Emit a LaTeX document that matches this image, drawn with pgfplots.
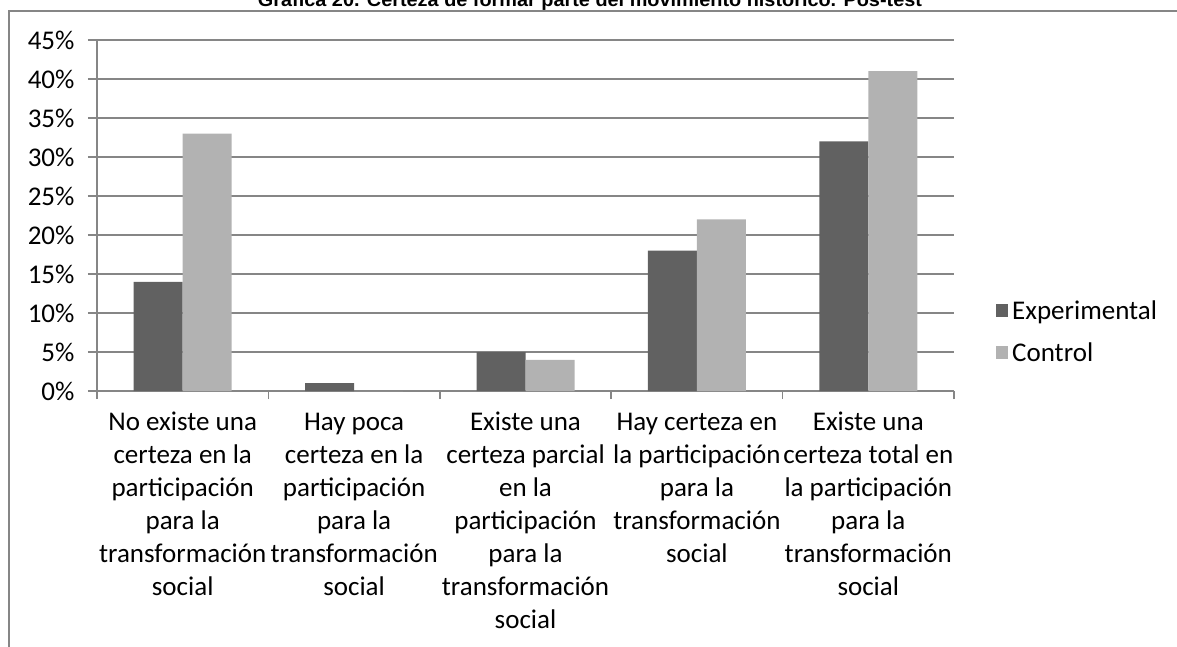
\documentclass[border=0pt]{standalone}
\usepackage{graphicx}
\usepackage{pgfplots}
\pgfplotsset{compat=1.18}
\usepackage{fontspec}
\setmainfont{Carlito}
\newfontfamily\titlefont{Liberation Sans}
\definecolor{gridc}{RGB}{134,134,134}
\definecolor{expc}{RGB}{97,97,97}
\definecolor{conc}{RGB}{178,178,178}
\begin{document}
\begin{tikzpicture}[x=1pt,y=1pt]
\useasboundingbox (0,0) rectangle (1177,646);
\draw[gridc, line width=1.5pt] (9,-5) -- (9,635) -- (1185,635);
\node[anchor=base, inner sep=0pt] at (590,639) {\resizebox{664pt}{\height}{\titlefont\fontsize{19}{23}\selectfont\bfseries Gráfica 20. Certeza de formar parte del movimiento histórico. Pos-test}};
\begin{axis}[
  at={(97pt,255pt)}, anchor=south west,
  scale only axis, width=857pt, height=351pt,
  xmin=-0.5, xmax=4.5, ymin=0, ymax=45,
  ybar=0pt, bar width=49pt,
  axis x line*=bottom, axis y line*=left,
  axis line style={gridc, line width=1.5pt, -},
  ytick={0,5,...,45},
  yticklabel={\pgfmathprintnumber{\tick}\%},
  /pgf/number format/assume math mode=true,
  ymajorgrids, grid style={gridc, line width=1.5pt},
  xtick={0,1,2,3,4},
  minor xtick={-0.5,0.5,1.5,2.5,3.5,4.5},
  tick align=outside, major tick length=9pt, minor tick length=8pt,
  major x tick style={draw=none},
  minor x tick style={gridc, line width=1.5pt},
  y tick style={gridc, line width=1.5pt},
  tick label style={font=\fontsize{27}{33}\selectfont},
  yticklabel style={xshift=-10pt},
  xticklabel style={align=center, anchor=north, inner ysep=0pt},
  xticklabels={
    {\rule{0pt}{30pt}No existe una\\certeza en la\\participación\\para la\\transformación\\social},
    {\rule{0pt}{30pt}Hay poca\\certeza en la\\participación\\para la\\transformación\\social},
    {\rule{0pt}{30pt}Existe una\\certeza parcial\\en la\\participación\\para la\\transformación\\social},
    {\rule{0pt}{30pt}Hay certeza en\\la participación\\para la\\transformación\\social},
    {\rule{0pt}{30pt}Existe una\\certeza total en\\la participación\\para la\\transformación\\social}},
  legend style={at={(rel axis cs:1.049,0.168)}, anchor=west, draw=none, fill=none,
    font=\fontsize{27}{33}\selectfont, row sep=22pt, inner xsep=0pt,
    nodes={inner xsep=4pt, inner ysep=0pt}},
  legend cell align=left,
  legend image code/.code={\fill[#1,draw=none] (0pt,-6pt) rectangle (12pt,7pt);},
]
\addplot[fill=expc, draw=none] coordinates {(0,14) (1,1) (2,5) (3,18) (4,32)};
\addplot[fill=conc, draw=none] coordinates {(0,33) (1,0) (2,4) (3,22) (4,41)};
\legend{Experimental, Control}
\end{axis}
\end{tikzpicture}
\end{document}
